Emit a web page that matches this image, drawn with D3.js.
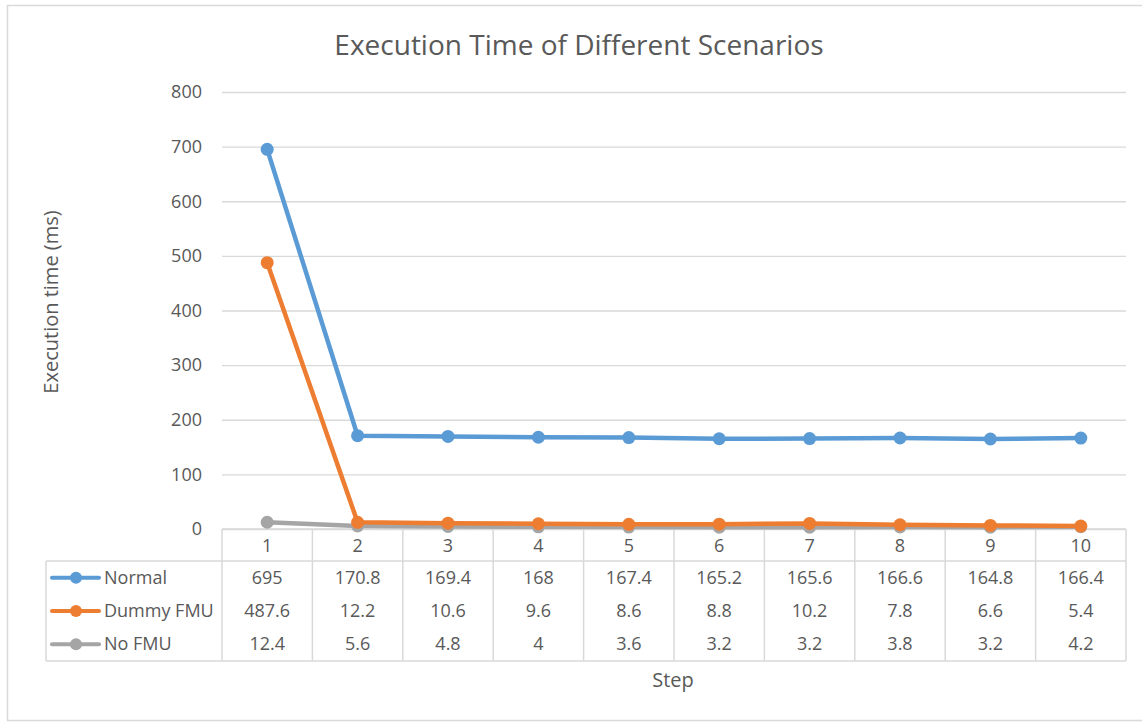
<!DOCTYPE html>
<html>
<head>
<meta charset="utf-8">
<script src="https://cdn.jsdelivr.net/npm/d3@7"></script>
<style>
  html, body { margin: 0; padding: 0; background: #fff; overflow: hidden; }
  svg { display: block; font-family: "Open Sans", "Noto Sans", sans-serif; }
</style>
</head>
<body>
<svg id="chart" width="1142" height="722"></svg>
<script>
// Execution time per step for each scenario (ms)
const steps = ["1", "2", "3", "4", "5", "6", "7", "8", "9", "10"];
const normal = [695, 170.8, 169.4, 168, 167.4, 165.2, 165.6, 166.6, 164.8, 166.4];
const dummyFmu = [487.6, 12.2, 10.6, 9.6, 8.6, 8.8, 10.2, 7.8, 6.6, 5.4];
const noFmu = [12.4, 5.6, 4.8, 4, 3.6, 3.2, 3.2, 3.8, 3.2, 4.2];
const yTicks = [0, 100, 200, 300, 400, 500, 600, 700, 800];

const seriesNames = ["Normal", "Dummy FMU", "No FMU"];
const seriesColors = ["#5B9BD5", "#ED7D31", "#A5A5A5"];
const seriesValues = [normal, dummyFmu, noFmu];
const series = seriesNames.map((name, i) => ({ name, color: seriesColors[i], values: seriesValues[i] }));

const svg = d3.select("#chart");
const textColor = "#595959";
const gridColor = "#D9D9D9";

// Chart frame (runs off the right edge)
svg.append("rect")
  .attr("x", 7.5).attr("y", 5.5).attr("width", 1200).attr("height", 715)
  .attr("fill", "#fff").attr("stroke", "#D9D9D9").attr("stroke-width", 1.5);

const plotLeft = 222, plotRight = 1126, plotTop = 92, plotBottom = 529;

const x = d3.scaleBand().domain(steps).range([plotLeft, plotRight]).padding(0);
const y = d3.scaleLinear().domain([0, 800]).range([plotBottom, plotTop]);

// Title
svg.append("text")
  .attr("x", 579).attr("y", 55)
  .attr("text-anchor", "middle")
  .attr("font-size", 28).attr("fill", textColor)
  .text("Execution Time of Different Scenarios");

// Horizontal gridlines with value labels
const yAxis = d3.axisLeft(y).tickValues(yTicks).tickSize(-(plotRight - plotLeft)).tickPadding(20);
const gy = svg.append("g").attr("transform", `translate(${plotLeft},0)`).call(yAxis);
gy.select(".domain").remove();
gy.selectAll(".tick line").attr("stroke", gridColor).attr("stroke-width", 1.3);
gy.selectAll(".tick text")
  .attr("font-size", 18).attr("fill", textColor)
  .attr("font-family", "'Open Sans', 'Noto Sans', sans-serif");

// Y axis title
svg.append("text")
  .attr("transform", "translate(58,302) rotate(-90)")
  .attr("text-anchor", "middle")
  .attr("font-size", 20).attr("fill", textColor)
  .text("Execution time (ms)");

// Data table beneath the plot
const headerTop = plotBottom, headerBottom = 561, tableBottom = 661;
const legendLeft = 46;
const rowH = (tableBottom - headerBottom) / series.length;
const table = svg.append("g");

const lineAttrs = sel => sel.attr("stroke", gridColor).attr("stroke-width", 1.5).attr("fill", "none");
table.append("line").attr("x1", plotLeft).attr("x2", plotRight).attr("y1", headerTop).attr("y2", headerTop).call(lineAttrs);
table.append("line").attr("x1", legendLeft).attr("x2", plotRight).attr("y1", headerBottom).attr("y2", headerBottom).call(lineAttrs);
table.append("line").attr("x1", legendLeft).attr("x2", plotRight).attr("y1", tableBottom).attr("y2", tableBottom).call(lineAttrs);
table.append("line").attr("x1", legendLeft).attr("x2", legendLeft).attr("y1", headerBottom).attr("y2", tableBottom).call(lineAttrs);
const colEdges = steps.map(s => x(s)).concat([plotRight]);
table.selectAll("line.col").data(colEdges).join("line")
  .attr("class", "col")
  .attr("x1", d => d).attr("x2", d => d)
  .attr("y1", headerTop).attr("y2", tableBottom)
  .call(lineAttrs);

// Header (step numbers)
table.selectAll("text.step").data(steps).join("text")
  .attr("class", "step")
  .attr("x", d => x(d) + x.bandwidth() / 2)
  .attr("y", (headerTop + headerBottom) / 2 + 7)
  .attr("text-anchor", "middle")
  .attr("font-size", 18).attr("fill", textColor)
  .text(d => d);

// Data rows with legend keys
series.forEach((s, i) => {
  const cy = headerBottom + rowH * (i + 0.5);
  table.append("line")
    .attr("x1", 52).attr("x2", 99).attr("y1", cy).attr("y2", cy)
    .attr("stroke", s.color).attr("stroke-width", 4).attr("stroke-linecap", "round");
  table.append("circle").attr("cx", 76).attr("cy", cy).attr("r", 6).attr("fill", s.color);
  table.append("text")
    .attr("x", 104).attr("y", cy + 6)
    .attr("font-size", 18).attr("fill", textColor)
    .text(s.name);
  table.selectAll(null).data(s.values).join("text")
    .attr("x", (d, j) => x(steps[j]) + x.bandwidth() / 2)
    .attr("y", cy + 6)
    .attr("text-anchor", "middle")
    .attr("font-size", 18).attr("fill", textColor)
    .text(d => d);
});

// X axis title
svg.append("text")
  .attr("x", 673).attr("y", 687)
  .attr("text-anchor", "middle")
  .attr("font-size", 20).attr("fill", textColor)
  .text("Step");

// Series lines and markers (gray drawn first, blue on top)
const line = d3.line()
  .x((d, j) => x(steps[j]) + x.bandwidth() / 2)
  .y(d => y(d));

series.slice().reverse().forEach(s => {
  const g = svg.append("g");
  g.append("path")
    .datum(s.values)
    .attr("d", line)
    .attr("fill", "none")
    .attr("stroke", s.color)
    .attr("stroke-width", 4.5)
    .attr("stroke-linejoin", "round")
    .attr("stroke-linecap", "round");
  g.selectAll("circle").data(s.values).join("circle")
    .attr("cx", (d, j) => x(steps[j]) + x.bandwidth() / 2)
    .attr("cy", d => y(d))
    .attr("r", 6.5)
    .attr("fill", s.color);
});
</script>
</body>
</html>
